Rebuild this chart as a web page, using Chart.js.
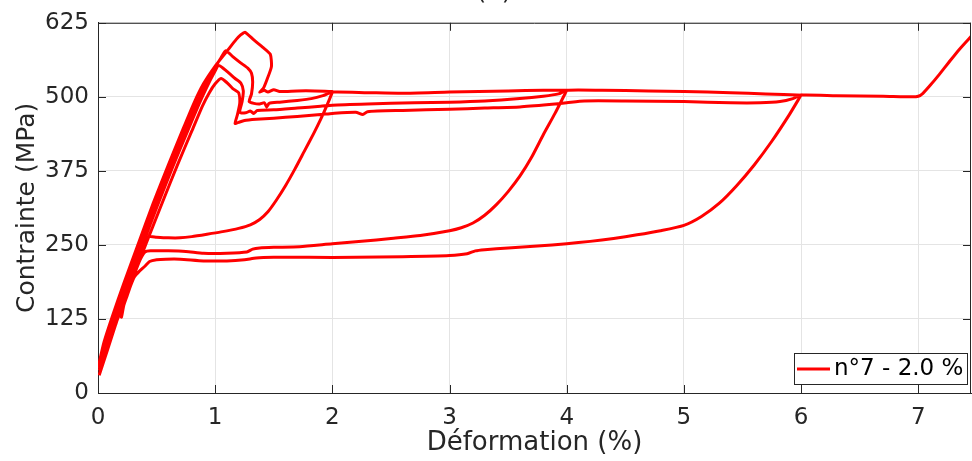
<!DOCTYPE html>
<html>
<head>
<meta charset="utf-8">
<script src="https://cdn.jsdelivr.net/npm/chart.js@4.4.1/dist/chart.umd.min.js"></script>
<style>
  html, body { margin: 0; padding: 0; background: #fff; }
  #wrap { width: 972px; height: 461px; }
</style>
</head>
<body>
<div id="wrap"><canvas id="stressChart" width="972" height="461"></canvas></div>
<script>
const xTicks = [0, 1, 2, 3, 4, 5, 6, 7];
const yTicks = [0, 125, 250, 375, 500, 625];
const seriesLabel = 'n°7 - 2.0 %';
const xTitle = 'Déformation (%)';
const yTitle = 'Contrainte (MPa)';
const chartTitle = '(a)';

// each segment: [strain %, stress MPa]
const load1 = [[0.0, 42], [0.05, 85], [0.12, 128], [0.22, 185], [0.34, 250], [0.47, 320], [0.6, 385], [0.72, 443], [0.82, 490], [0.9, 522], [1.0, 552], [1.1, 577], [1.18, 597], [1.22, 605], [1.255, 609], [1.33, 596], [1.41, 583], [1.47, 572], [1.48, 551], [1.44, 528], [1.41, 514], [1.38, 508], [1.42, 511], [1.45, 508], [1.5, 512], [1.55, 509], [1.7, 510], [1.85, 510], [2.0, 509]];
const unload2 = [[2.0, 508], [1.95, 484], [1.9, 462], [1.84, 438], [1.76, 408], [1.68, 378], [1.6, 350], [1.52, 325], [1.45, 306], [1.38, 293], [1.3, 284], [1.2, 278], [1.05, 272], [0.93, 268], [0.8, 264], [0.7, 262], [0.6, 262], [0.5, 263], [0.44, 264], [0.41, 258], [0.37, 240], [0.3, 202], [0.2, 150], [0.1, 97], [0.03, 55], [0.01, 38]];
const reload2 = [[0.01, 38], [0.06, 80], [0.14, 128], [0.24, 185], [0.36, 250], [0.49, 318], [0.62, 383], [0.74, 440], [0.84, 487], [0.92, 522], [1.0, 550], [1.05, 566], [1.09, 578], [1.15, 568], [1.22, 557], [1.28, 548], [1.31, 540], [1.32, 525], [1.31, 505], [1.29, 492], [1.33, 489], [1.38, 488], [1.42, 490], [1.44, 483], [1.46, 489], [1.55, 491], [1.7, 494], [1.82, 497], [1.92, 502], [2.0, 508], [2.3, 507], [2.6, 506], [3.0, 508], [3.5, 510], [3.8, 511], [4.0, 511]];
const unload4 = [[4.0, 511], [3.9, 472], [3.8, 436], [3.7, 398], [3.6, 366], [3.5, 340], [3.4, 318], [3.3, 300], [3.2, 287], [3.1, 279], [3.0, 274], [2.75, 266], [2.5, 261], [2.25, 256], [2.0, 252], [1.72, 247], [1.5, 246], [1.38, 245], [1.32, 243], [1.27, 238], [1.1, 236], [0.9, 236], [0.75, 239], [0.6, 240], [0.45, 240], [0.4, 238], [0.36, 225], [0.3, 195], [0.2, 142], [0.1, 90], [0.02, 48]];
const reload3 = [[0.02, 48], [0.08, 85], [0.16, 130], [0.26, 185], [0.38, 250], [0.51, 318], [0.64, 383], [0.76, 440], [0.86, 487], [0.93, 517], [0.99, 540], [1.03, 553], [1.1, 543], [1.17, 531], [1.22, 523], [1.24, 510], [1.23, 492], [1.21, 474], [1.26, 473], [1.3, 476], [1.33, 472], [1.36, 477], [1.5, 478], [1.7, 481], [1.9, 484], [2.0, 486], [2.3, 488], [2.7, 490], [3.0, 491], [3.3, 493], [3.6, 497], [3.8, 501], [3.93, 505], [4.0, 511], [4.3, 511], [4.7, 510], [5.0, 509], [5.4, 507], [5.7, 505], [6.0, 503]];
const unload6 = [[6.0, 503], [5.9, 470], [5.75, 425], [5.6, 385], [5.45, 350], [5.3, 320], [5.15, 298], [5.0, 283], [4.8, 274], [4.6, 267], [4.4, 261], [4.2, 256], [4.0, 252], [3.75, 248], [3.5, 245], [3.3, 242], [3.22, 240], [3.15, 235], [3.0, 232], [2.6, 230], [2.2, 229], [1.8, 229], [1.5, 229], [1.35, 228], [1.25, 225], [1.1, 223], [0.9, 223], [0.7, 226], [0.58, 226], [0.5, 225], [0.44, 222], [0.4, 214], [0.35, 205], [0.31, 196], [0.28, 182], [0.25, 165], [0.22, 148], [0.2, 128], [0.19, 138], [0.15, 115], [0.08, 72], [0.01, 30]];
const reload4 = [[0.01, 30], [0.08, 78], [0.17, 128], [0.28, 185], [0.41, 252], [0.55, 322], [0.68, 386], [0.8, 442], [0.89, 484], [0.95, 507], [1.0, 522], [1.05, 531], [1.1, 524], [1.15, 514], [1.2, 507], [1.21, 490], [1.19, 470], [1.17, 455], [1.2, 457], [1.25, 460], [1.35, 462], [1.5, 464], [1.7, 467], [1.9, 470], [2.0, 472], [2.2, 474], [2.26, 470], [2.3, 475], [2.6, 477], [3.0, 479], [3.3, 481], [3.6, 483], [3.85, 487], [4.0, 490], [4.15, 493], [4.5, 493], [5.0, 492], [5.4, 490], [5.65, 490], [5.82, 492], [5.93, 497], [6.0, 503], [6.3, 502], [6.7, 501], [6.95, 500], [7.0, 501], [7.04, 506], [7.1, 519], [7.18, 538], [7.26, 558], [7.35, 580], [7.46, 604]];

const cycles = [load1, unload2, reload2, unload4, reload3, unload6, reload4];

const colors = {
  line: '#ff0000',
  axis: '#262626',
  grid: '#e4e4e4',
  text: '#262626'
};
const fontFamily = "'DejaVu Sans', Verdana, sans-serif";

const points = cycles.flat().map(([x, y]) => ({ x, y }));

const frame = {
  id: 'frame',
  afterDraw(chart) {
    const { ctx, chartArea: a, scales: { x, y } } = chart;
    ctx.save();
    ctx.strokeStyle = colors.axis;
    ctx.lineWidth = 1;
    ctx.beginPath();
    ctx.moveTo(a.left, a.top + 0.5);
    ctx.lineTo(a.right, a.top + 0.5);
    ctx.moveTo(a.right - 0.5, a.top);
    ctx.lineTo(a.right - 0.5, a.bottom);
    xTicks.forEach(v => {
      const px = Math.round(x.getPixelForValue(v)) + 0.5;
      ctx.moveTo(px, a.bottom); ctx.lineTo(px, a.bottom - 8);
      ctx.moveTo(px, a.top); ctx.lineTo(px, a.top + 8);
    });
    yTicks.forEach(v => {
      const py = Math.round(y.getPixelForValue(v)) + 0.5;
      ctx.moveTo(a.left, py); ctx.lineTo(a.left + 8, py);
      ctx.moveTo(a.right, py); ctx.lineTo(a.right - 8, py);
    });
    ctx.stroke();

    // legend box, bottom right inside the axes
    const ds = chart.data.datasets[0];
    ctx.fillStyle = '#fff';
    ctx.fillRect(794.5, 353.5, 173, 31);
    ctx.strokeRect(794.5, 353.5, 173, 31);
    ctx.strokeStyle = ds.borderColor;
    ctx.lineWidth = 3;
    ctx.beginPath();
    ctx.moveTo(797, 369);
    ctx.lineTo(830, 369);
    ctx.stroke();
    ctx.fillStyle = '#000';
    ctx.font = `23px ${fontFamily}`;
    ctx.textBaseline = 'middle';
    ctx.textAlign = 'left';
    ctx.fillText(ds.label, 834, 369);

    // title sits above the page edge, only its foot shows
    ctx.fillStyle = colors.text;
    ctx.font = `25px ${fontFamily}`;
    ctx.textAlign = 'center';
    ctx.textBaseline = 'alphabetic';
    ctx.fillText(chartTitle, 494, -1);
    ctx.restore();
  }
};

new Chart(document.getElementById('stressChart').getContext('2d'), {
  type: 'scatter',
  data: {
    datasets: [{
      label: seriesLabel,
      data: points,
      showLine: true,
      borderColor: colors.line,
      backgroundColor: colors.line,
      borderWidth: 3,
      pointRadius: 0,
      tension: 0.2,
      fill: false
    }]
  },
  options: {
    responsive: false,
    animation: false,
    layout: { padding: { top: 21, right: 1, left: 0, bottom: 0 } },
    plugins: {
      legend: { display: false },
      tooltip: { enabled: false }
    },
    scales: {
      x: {
        type: 'linear',
        min: 0,
        max: 7.45,
        afterBuildTicks: s => { s.ticks = xTicks.map(v => ({ value: v })); },
        afterFit: s => { s.height = 68; },
        grid: { color: colors.grid, drawTicks: false },
        border: { color: colors.axis, width: 1 },
        ticks: { color: colors.text, font: { family: fontFamily, size: 23 }, padding: 11, autoSkip: false, maxRotation: 0 },
        title: { display: true, text: xTitle, color: colors.text, font: { family: fontFamily, size: 26 }, padding: { top: 0, bottom: 2 } }
      },
      y: {
        min: 0,
        max: 625,
        afterBuildTicks: s => { s.ticks = yTicks.map(v => ({ value: v })); },
        afterFit: s => { s.width = 98; },
        grid: { color: colors.grid, drawTicks: false },
        border: { color: colors.axis, width: 1 },
        ticks: { color: colors.text, font: { family: fontFamily, size: 23 }, padding: 9, autoSkip: false },
        title: { display: true, text: yTitle, color: colors.text, font: { family: fontFamily, size: 25 }, padding: { top: 12, bottom: 0 } }
      }
    }
  },
  plugins: [frame]
});
</script>
</body>
</html>
